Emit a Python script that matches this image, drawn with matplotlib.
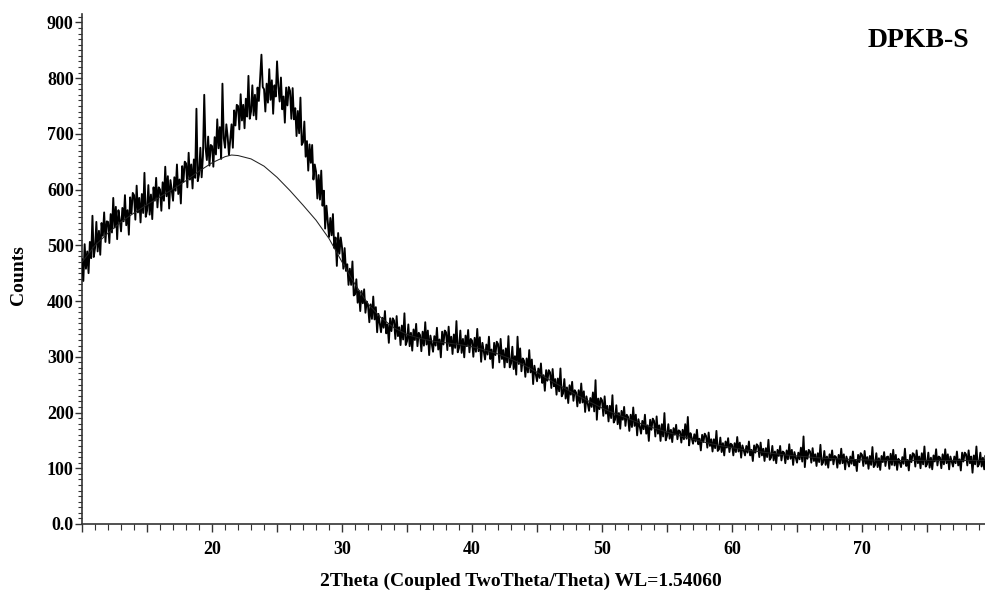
import numpy as np
import matplotlib
matplotlib.use("Agg")
import matplotlib.pyplot as plt
from matplotlib.ticker import MultipleLocator, FuncFormatter

plt.rcParams['font.family'] = ['Liberation Serif', 'DejaVu Serif']
plt.rcParams['font.weight'] = 'bold'

# ---------------------------------------------------------------
# Scan: 2theta from 10.0 deg, step 0.1 deg (one row per degree)
# ---------------------------------------------------------------
two_theta_start = 10.0
two_theta_step = 0.1

counts = [
    475, 436, 502, 458, 489, 450, 506, 477, 553, 479,   # 10
    495, 542, 489, 526, 483, 540, 517, 559, 506, 543,   # 11
    542, 504, 556, 523, 585, 532, 569, 511, 563, 545,   # 12
    525, 567, 543, 590, 536, 563, 519, 586, 557, 594,   # 13
    590, 546, 607, 559, 585, 541, 592, 558, 630, 551,   # 14
    562, 608, 555, 591, 547, 604, 580, 621, 568, 604,   # 15
    600, 562, 613, 580, 641, 588, 624, 566, 617, 599,   # 16
    580, 622, 598, 645, 592, 618, 575, 642, 614, 650,   # 17
    647, 604, 666, 618, 645, 602, 654, 621, 745, 615,   # 18
    627, 675, 622, 660, 770, 675, 653, 695, 643, 680,   # 19
    678, 641, 694, 663, 726, 674, 712, 655, 790, 692,   # 20
    675, 717, 695, 662, 690, 717, 675, 742, 715, 752,   # 21
    750, 708, 771, 724, 752, 710, 763, 731, 804, 727,   # 22
    740, 787, 733, 770, 726, 783, 759, 801, 842, 784,   # 23
    780, 740, 790, 756, 816, 761, 796, 736, 787, 767,   # 24
    830, 785, 758, 801, 744, 767, 720, 783, 751, 784,   # 25
    777, 727, 782, 726, 746, 696, 741, 701, 765, 680,   # 26
    685, 722, 659, 687, 634, 681, 648, 680, 618, 645,   # 27
    632, 584, 626, 582, 634, 571, 598, 530, 571, 543,   # 28
    515, 549, 518, 556, 495, 514, 463, 522, 485, 514,   # 29
    496, 458, 495, 454, 466, 429, 458, 429, 471, 410,   # 30
    412, 439, 397, 418, 382, 418, 396, 421, 379, 399,   # 31
    392, 362, 394, 368, 408, 367, 389, 344, 377, 360,   # 32
    344, 370, 352, 382, 342, 358, 325, 369, 346, 369,   # 33
    365, 332, 373, 337, 353, 321, 356, 331, 378, 321,   # 34
    328, 358, 319, 343, 311, 349, 330, 359, 319, 343,   # 35
    339, 310, 345, 320, 362, 322, 347, 303, 338, 323,   # 36
    309, 337, 320, 352, 313, 331, 299, 345, 322, 347,   # 37
    344, 312, 354, 319, 336, 305, 340, 316, 364, 308,   # 38
    316, 347, 307, 332, 299, 338, 319, 348, 308, 332,   # 39
    329, 300, 334, 309, 350, 310, 335, 291, 325, 310,   # 40
    295, 322, 304, 336, 296, 313, 280, 325, 303, 327,   # 41
    323, 290, 332, 296, 312, 281, 315, 290, 337, 281,   # 42
    288, 318, 278, 301, 268, 336, 287, 315, 274, 297,   # 43
    293, 264, 297, 272, 312, 272, 295, 251, 284, 269,   # 44
    256, 279, 262, 288, 253, 267, 239, 276, 257, 276,   # 45
    272, 244, 278, 247, 260, 232, 261, 238, 279, 229,   # 46
    234, 260, 225, 245, 217, 249, 232, 255, 221, 240,   # 47
    236, 211, 240, 217, 252, 218, 238, 201, 229, 216,   # 48
    203, 226, 210, 236, 202, 258, 187, 225, 206, 226,   # 49
    222, 194, 229, 198, 212, 184, 212, 190, 231, 182,   # 50
    187, 213, 179, 199, 171, 203, 187, 210, 176, 196,   # 51
    192, 167, 196, 174, 209, 176, 196, 159, 188, 175,   # 52
    162, 185, 170, 196, 162, 177, 149, 187, 169, 189,   # 53
    185, 157, 193, 162, 177, 149, 179, 157, 199, 150,   # 54
    158, 179, 153, 169, 147, 172, 160, 178, 152, 168,   # 55
    166, 146, 169, 152, 179, 153, 192, 141, 163, 154,   # 56
    144, 161, 148, 169, 143, 153, 132, 160, 147, 162,   # 57
    158, 137, 164, 140, 152, 130, 152, 136, 167, 131,   # 58
    134, 155, 129, 145, 123, 148, 137, 154, 129, 144,   # 59
    142, 123, 145, 129, 156, 130, 146, 119, 141, 132,   # 60
    123, 140, 128, 148, 123, 133, 113, 141, 128, 143,   # 61
    140, 120, 146, 123, 135, 113, 136, 120, 151, 115,   # 62
    119, 140, 114, 130, 109, 133, 122, 140, 114, 130,   # 63
    128, 109, 132, 116, 143, 117, 133, 106, 129, 119,   # 64
    110, 128, 116, 137, 112, 157, 102, 131, 117, 133,   # 65
    130, 110, 136, 113, 125, 104, 127, 111, 142, 106,   # 66
    110, 131, 106, 121, 101, 125, 114, 132, 107, 122,   # 67
    120, 101, 124, 108, 135, 109, 125, 98, 121, 112,    # 68
    103, 121, 108, 130, 105, 115, 95, 124, 111, 127,    # 69
    124, 104, 131, 108, 120, 99, 122, 106, 138, 102,    # 70
    106, 127, 102, 118, 97, 122, 111, 129, 104, 120,    # 71
    121, 99, 126, 106, 133, 105, 124, 97, 117, 111,     # 72
    102, 120, 108, 135, 104, 115, 96, 124, 111, 127,    # 73
    125, 103, 132, 109, 121, 100, 127, 107, 139, 103,   # 74
    107, 128, 101, 119, 98, 123, 112, 134, 105, 121,    # 75
    119, 100, 125, 107, 134, 109, 125, 98, 121, 112,    # 76
    103, 121, 109, 130, 105, 116, 96, 128, 112, 128,    # 77
    125, 105, 132, 109, 121, 92, 123, 107, 139, 103,    # 78
    107, 128, 103, 119, 98, 123, 112, 130, 105, 121,    # 79
]

# Fitted amorphous background
bg_theta = [10, 11, 12, 13, 14, 15, 16, 17, 18, 19, 20, 21, 21.5, 22, 23, 24,
            25, 26, 27, 28, 29, 30, 31, 32, 33, 34, 35, 36, 37, 38, 39, 40,
            41, 42, 43, 44, 45, 46, 47, 48, 49, 50, 51, 52, 53, 54, 55, 56,
            57, 58, 59, 60, 61, 62, 63, 64, 65, 66, 67, 68, 69, 70, 72, 74,
            76, 78, 80]
bg_counts = [470, 500, 522, 542, 558, 573, 587, 601, 616, 633, 648, 659, 662, 661,
             655, 642, 622, 598, 572, 545, 512, 470, 430, 395, 370, 352, 340, 333,
             328, 325, 322, 318, 312, 305, 296, 285, 272, 258, 245, 232, 220, 208,
             198, 189, 180, 172, 165, 158, 152, 146, 141, 137, 133, 130, 127, 124,
             122, 120, 118, 117, 116, 115, 114, 114, 114, 114, 114]

two_theta = two_theta_start + two_theta_step * np.arange(len(counts))

fig = plt.figure(figsize=(9.85, 5.93), dpi=100)
ax = fig.add_axes([0.0833, 0.1164, 0.9167, 0.860])

ax.plot(two_theta, counts, color='black', linewidth=1.35, zorder=3)
ax.plot(bg_theta, bg_counts, color='#222222', linewidth=0.75, zorder=4)

ax.set_xlim(10, 79.46)
ax.set_ylim(0, 915)

for side in ('top', 'right'):
    ax.spines[side].set_visible(False)
for side in ('left', 'bottom'):
    ax.spines[side].set_linewidth(1.2)
    ax.spines[side].set_color('#333333')

ax.xaxis.set_major_locator(MultipleLocator(5))
ax.xaxis.set_minor_locator(MultipleLocator(1))
ax.xaxis.set_major_formatter(FuncFormatter(
    lambda v, p: f'{v:.0f}' if (v % 10 == 0 and v > 10) else ''))
ax.yaxis.set_major_locator(MultipleLocator(100))
ax.yaxis.set_minor_locator(MultipleLocator(10))
ax.yaxis.set_major_formatter(FuncFormatter(
    lambda v, p: '0.0' if v == 0 else f'{v:.0f}'))

ax.tick_params(axis='x', which='major', length=6, width=1.0, color='#333333',
               labelsize=13, pad=6)
ax.tick_params(axis='x', which='minor', length=4, width=0.8, color='#333333')
ax.tick_params(axis='y', which='major', length=5, width=1.0, color='#333333',
               labelsize=13, pad=1)
ax.tick_params(axis='y', which='minor', length=3, width=0.8, color='#333333')
for lab in ax.get_xticklabels() + ax.get_yticklabels():
    lab.set_fontweight('bold')

fig.text(0.529, 0.020, '2Theta (Coupled TwoTheta/Theta) WL=1.54060',
         ha='center', va='center', fontsize=14, fontweight='bold')
fig.text(0.019, 0.536, 'Counts', rotation=90, ha='center', va='center',
         fontsize=14, fontweight='bold')
ax.text(0.983, 0.949, 'DPKB-S', transform=ax.transAxes, ha='right', va='center',
        fontsize=20, fontweight='bold')

fig.savefig('out.png', dpi=100, facecolor='white')
